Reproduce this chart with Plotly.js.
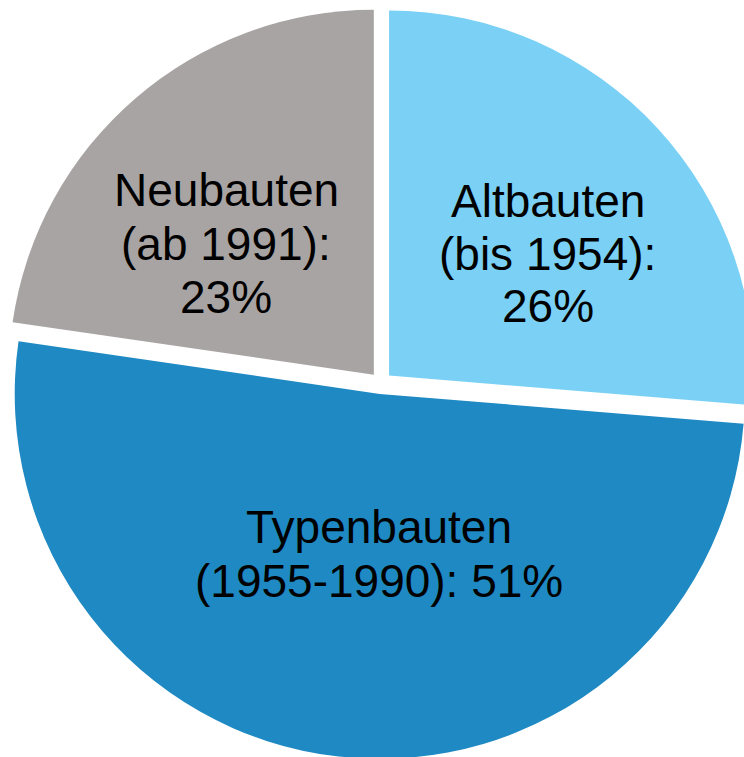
<!DOCTYPE html>
<html>
<head>
<meta charset="utf-8">
<script src="https://cdn.plot.ly/plotly-3.0.1.min.js"></script>
<style>
  html, body { margin: 0; padding: 0; overflow: hidden; background: #fff; width: 744px; height: 757px; }
  #chart { position: absolute; left: 0; top: 0; }
</style>
</head>
<body>
<div id="chart"></div>
<script>
// ---- data ----
const names   = ['Altbauten', 'Typenbauten', 'Neubauten'];
const periods = ['(bis 1954)', '(1955-1990)', '(ab 1991)'];
const shares  = [26.3, 51.0, 22.7];   // slice sizes
const shareLabels = ['26%', '51%', '23%'];
const colors  = ['#7AD1F5', '#1E89C2', '#A8A4A3'];

// ---- layout geometry (pixels) ----
const W = 757, H = 759, ML = 5, MT = 7, PW = 752, PH = 752;
const px2x = px => (px - ML) / PW;
const py2y = py => 1 - (py - MT) / PH;

// label line texts built from data
function labelLines(i) {
  if (i === 1) return [names[i], periods[i] + ': ' + shareLabels[i]];
  return [names[i], periods[i] + ':', shareLabels[i]];
}
// label anchor positions (pixel centre of each line)
const labelX = [547.5, 379, 226];
const labelY = [[200.7, 254, 305.7], [527.3, 580.7], [190, 244, 296.7]];

const annotations = [];
names.forEach((n, i) => {
  labelLines(i).forEach((t, k) => {
    annotations.push({
      text: t,
      xref: 'paper', yref: 'paper',
      x: px2x(labelX[i]), y: py2y(labelY[i][k]),
      xanchor: 'center', yanchor: 'middle',
      showarrow: false,
      font: { family: 'Liberation Sans, Arial, sans-serif', size: 46, color: '#000' }
    });
  });
});

const trace = {
  type: 'pie',
  labels: names,
  values: shares,
  sort: false,
  direction: 'clockwise',
  rotation: 0,
  pull: [0.03, 0.03, 0.03],
  marker: { colors: colors, line: { width: 0 } },
  textinfo: 'none',
  hoverinfo: 'skip',
  showlegend: false
};

const layout = {
  width: W, height: H,
  margin: { l: ML, r: W - ML - PW, t: MT, b: H - MT - PH, pad: 0 },
  paper_bgcolor: '#ffffff',
  plot_bgcolor: '#ffffff',
  showlegend: false,
  annotations: annotations
};

Plotly.newPlot('chart', [trace], layout, { displayModeBar: false, staticPlot: true });
</script>
</body>
</html>
